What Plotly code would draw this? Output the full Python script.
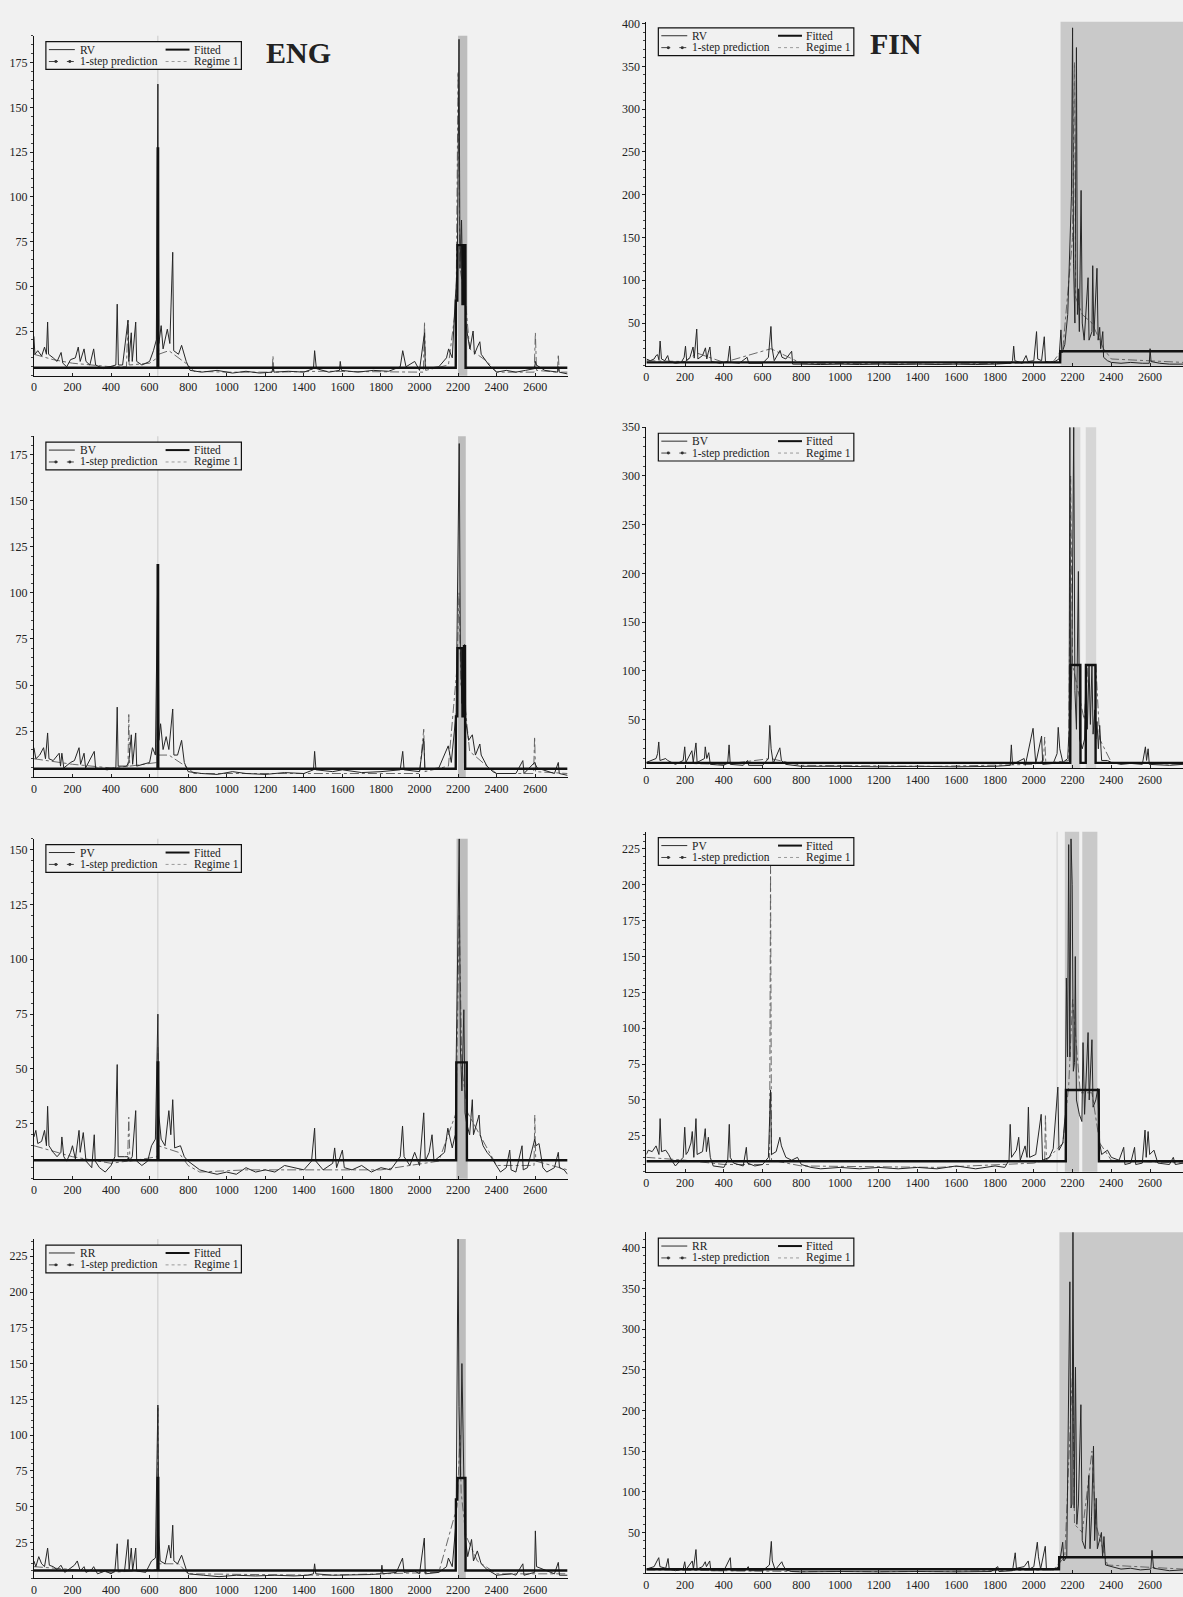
import plotly.graph_objects as go

W, H = 1183, 1597

# ---------------- tick labels ----------------
X_TICKS = [0, 200, 400, 600, 800, 1000, 1200, 1400, 1600, 1800, 2000, 2200, 2400, 2600]
ENG_RV_TICKS = [25, 50, 75, 100, 125, 150, 175]
ENG_BV_TICKS = [25, 50, 75, 100, 125, 150, 175]
ENG_PV_TICKS = [25, 50, 75, 100, 125, 150]
ENG_RR_TICKS = [25, 50, 75, 100, 125, 150, 175, 200, 225]
FIN_RV_TICKS = [50, 100, 150, 200, 250, 300, 350, 400]
FIN_BV_TICKS = [50, 100, 150, 200, 250, 300, 350]
FIN_PV_TICKS = [25, 50, 75, 100, 125, 150, 175, 200, 225]
FIN_RR_TICKS = [50, 100, 150, 200, 250, 300, 350, 400]

# ---------------- ENG data (observation, value) ----------------
ENG_RV = [(0,22),(5,12),(20,14),(40,11),(55,16),(65,12),(71,30),(76,12),(100,10),(120,8),(141,13),(150,7),(170,5),(190,9),(215,10),(230,16),(240,8),(260,15),(270,8),(290,6),(310,15),(320,6),(360,4),(400,5),(425,6),(432,40),(438,6),(460,6),(488,31),(492,8),(505,24),(510,8),(528,30),(533,8),(560,6),(600,8),(620,14),(635,20),(643,163),(648,18),(660,28),(670,15),(692,26),(705,18),(720,69),(725,14),(750,12),(766,17),(790,8),(810,3),(870,2),(950,3),(1030,1.5),(1100,2.5),(1170,1.5),(1235,2),(1240,5),(1245,2),(1320,2.5),(1400,2),(1450,4),(1456,14),(1465,4),(1530,2),(1585,3),(1589,8),(1595,3),(1680,2),(1760,3),(1840,2.5),(1900,5),(1913,14),(1930,5),(1975,8),(2000,3),(2026,24),(2030,4),(2100,5),(2140,10),(2151,15),(2170,10),(2185,42),(2196,60),(2205,188),(2210,60),(2218,87),(2225,40),(2232,73),(2240,30),(2250,22),(2262,15),(2278,25),(2285,12),(2300,16),(2313,19),(2320,12),(2340,9),(2360,6),(2380,4),(2400,2),(2450,3),(2500,2),(2550,3),(2597,4),(2601,8),(2606,6),(2650,3),(2700,2),(2716,2),(2720,5),(2725,2),(2768,1)]
ENG_RV_PRED = [(0,12),(100,9),(200,7),(300,6),(400,5),(480,5),(488,31),(494,6),(600,7),(640,10),(643,127),(647,12),(700,14),(800,6),(830,2.5),(1000,2),(1235,2),(1240,11),(1245,2),(1500,2.5),(1800,2),(2020,2),(2026,30),(2032,3),(2150,6),(2190,40),(2200,170),(2210,60),(2240,40),(2260,15),(2350,8),(2400,2),(2595,2),(2601,24),(2607,3),(2715,2),(2720,12),(2725,2),(2768,2)]
ENG_RV_FIT = [(0,4.5),(641,4.5),(642,127),(644,127),(645,4.5),(2188,4.5),(2189,42),(2196,42),(2197,73),(2222,73),(2223,40),(2232,40),(2233,73),(2238,73),(2239,4.5),(2768,4.5)]
ENG_RV_REG = [(641,645),(2200,2248)]

ENG_BV = [(0,16),(10,10),(30,12),(50,16),(60,10),(71,24),(78,10),(100,9),(131,13),(138,6),(145,13),(155,5),(190,8),(210,9),(234,16),(242,7),(260,13),(268,5),(313,14),(320,5),(380,4),(425,5),(432,38),(437,6),(480,6),(492,8),(505,23),(512,7),(528,24),(533,6),(600,8),(615,16),(630,12),(643,115),(648,20),(657,29),(670,15),(686,22),(700,15),(720,37),(726,12),(745,12),(766,20),(780,8),(800,3),(870,2),(950,1.5),(1030,3),(1100,2),(1200,1.5),(1300,2.5),(1400,2),(1450,4),(1456,14),(1463,4),(1550,3),(1600,4),(1700,2.5),(1800,3),(1900,4),(1913,14),(1920,4),(2000,3),(2022,21),(2028,4),(2100,5),(2149,17),(2165,8),(2190,35),(2200,120),(2206,181),(2212,70),(2220,40),(2234,72),(2240,30),(2255,20),(2274,23),(2290,12),(2313,18),(2320,12),(2350,6),(2380,3),(2400,2),(2500,2),(2536,9),(2542,2),(2597,8),(2610,5),(2700,2),(2720,8),(2725,2),(2768,1)]
ENG_BV_PRED = [(0,10),(200,7),(400,5),(488,6),(492,34),(497,6),(640,8),(643,110),(646,12),(700,12),(800,5),(830,2),(1500,2),(2000,2),(2022,26),(2028,3),(2150,6),(2195,60),(2205,100),(2215,50),(2240,35),(2260,14),(2350,6),(2400,2),(2592,2),(2597,22),(2602,3),(2768,2)]
ENG_BV_FIT = [(0,4.6),(641,4.6),(642,115),(644,115),(645,4.6),(2188,4.6),(2189,33),(2196,33),(2197,70),(2222,70),(2223,33),(2230,33),(2231,71),(2236,71),(2237,4.6),(2768,4.6)]
ENG_BV_REG = [(641,645),(2200,2240)]

ENG_PV = [(0,19),(10,22),(20,16),(40,17),(55,22),(65,15),(71,33),(78,15),(100,12),(120,10),(140,12),(145,19),(155,10),(170,8),(190,12),(200,15),(215,9),(234,22),(240,12),(256,21),(270,8),(290,6),(300,5),(313,20),(318,8),(340,5),(370,3),(400,6),(420,10),(432,52),(437,10),(470,10),(488,10),(495,8),(510,10),(528,31),(533,8),(560,6),(590,8),(610,15),(630,18),(643,75),(648,29),(660,18),(680,15),(700,31),(710,20),(720,36),(730,14),(760,15),(780,10),(800,8),(830,6),(860,4),(900,3),(950,2),(1000,3),(1050,2),(1100,5),(1150,3),(1200,4),(1250,3),(1300,6),(1350,5),(1400,4),(1440,8),(1456,23),(1462,8),(1500,4),(1550,7),(1560,14),(1570,5),(1600,13),(1610,5),(1650,4),(1700,6),(1750,3),(1800,5),(1850,4),(1900,10),(1912,24),(1920,10),(1950,6),(1975,12),(2000,6),(2022,30),(2030,8),(2050,12),(2065,20),(2075,8),(2130,12),(2147,23),(2170,14),(2185,20),(2195,90),(2206,155),(2212,60),(2220,40),(2230,77),(2236,30),(2245,25),(2260,20),(2274,36),(2280,20),(2309,29),(2315,20),(2330,15),(2350,12),(2370,10),(2400,6),(2420,3),(2450,5),(2468,13),(2475,4),(2500,3),(2532,15),(2538,4),(2560,5),(2598,18),(2605,15),(2620,16),(2640,5),(2660,3),(2700,5),(2720,12),(2726,5),(2750,4),(2768,2)]
ENG_PV_PRED = [(0,15),(200,10),(400,7),(486,8),(492,28),(498,8),(640,10),(643,60),(646,15),(750,12),(800,6),(860,3),(1100,4),(1400,4),(1800,4),(2100,8),(2190,30),(2206,120),(2220,50),(2250,30),(2300,22),(2400,6),(2594,6),(2598,29),(2603,8),(2768,4)]
ENG_PV_FIT = [(0,8.4),(641,8.4),(642,53),(645,53),(646,8.4),(2190,8.4),(2191,53),(2245,53),(2246,8.4),(2768,8.4)]
ENG_PV_REG = [(641,645),(2192,2250)]

ENG_RR = [(0,12),(10,8),(25,15),(40,10),(55,8),(71,21),(80,9),(100,8),(120,6),(140,9),(160,4),(190,7),(210,9),(225,12),(240,5),(260,8),(270,4),(300,6),(310,8),(330,3),(370,5),(400,3),(420,5),(432,24),(437,5),(470,5),(488,27),(494,6),(505,21),(512,5),(528,21),(533,5),(580,4),(610,12),(630,14),(643,121),(648,30),(655,12),(680,10),(700,23),(710,14),(720,37),(726,12),(745,10),(766,16),(790,6),(800,3),(880,2),(960,1),(1050,2),(1150,1.5),(1250,2),(1350,1.5),(1420,2),(1450,3),(1456,10),(1462,3),(1550,2),(1650,2),(1750,2.5),(1800,3),(1805,9),(1810,3),(1880,4),(1912,14),(1920,4),(1975,5),(2000,3),(2025,28),(2030,3),(2100,4),(2140,8),(2150,14),(2170,8),(2190,40),(2200,237),(2205,120),(2212,70),(2220,150),(2228,70),(2235,30),(2250,15),(2270,27),(2280,12),(2300,19),(2320,10),(2350,6),(2400,2),(2480,3),(2500,2),(2536,10),(2542,2),(2597,4),(2601,33),(2607,8),(2700,3),(2720,11),(2726,2),(2768,2)]
ENG_RR_PRED = [(0,8),(200,6),(400,4),(640,6),(643,120),(646,10),(750,10),(800,3),(1500,2),(2100,4),(2195,50),(2210,100),(2216,60),(2240,30),(2300,12),(2400,3),(2768,3)]
ENG_RR_FIT = [(0,5.3),(641,5.3),(642,70),(645,70),(646,5.3),(2188,5.3),(2189,55),(2196,55),(2197,70),(2238,70),(2239,5.3),(2768,5.3)]
ENG_RR_REG = [(641,645),(2200,2240)]

# ---------------- FIN data ----------------
FIN_RV = [(0,8),(20,6),(40,8),(50,12),(58,13),(65,7),(71,29),(78,8),(95,6),(110,12),(118,5),(150,3),(180,4),(195,10),(202,23),(208,6),(225,10),(241,22),(247,9),(260,43),(266,8),(290,12),(305,21),(312,8),(320,16),(328,22),(335,5),(380,3),(420,5),(430,23),(436,4),(480,3),(520,10),(528,3),(600,3),(630,10),(643,46),(648,22),(660,6),(690,18),(700,10),(720,8),(750,17),(755,2),(800,2),(900,1.5),(1000,2),(1100,1.5),(1200,2),(1300,1.5),(1400,2),(1500,1.5),(1600,2),(1700,1.5),(1800,2),(1880,3),(1890,6),(1896,23),(1902,6),(1940,3),(1960,12),(1970,5),(2000,6),(2014,40),(2020,8),(2040,6),(2054,34),(2060,5),(2100,4),(2130,8),(2140,42),(2145,15),(2160,25),(2175,60),(2194,198),(2200,395),(2205,120),(2212,50),(2220,372),(2225,60),(2230,90),(2235,40),(2244,205),(2250,50),(2260,30),(2280,103),(2285,30),(2300,40),(2304,117),(2310,35),(2326,114),(2332,30),(2340,45),(2345,20),(2356,40),(2360,10),(2380,6),(2400,4),(2450,3),(2500,4),(2560,3),(2596,3),(2600,20),(2605,5),(2650,3),(2700,2),(2770,2)]
FIN_RV_PRED = [(0,6),(200,5),(260,15),(400,4),(643,20),(800,3),(1500,2),(1900,3),(2100,5),(2150,20),(2200,150),(2210,355),(2216,80),(2250,60),(2300,50),(2360,20),(2400,8),(2770,4)]
FIN_RV_FIT = [(0,4),(2136,4),(2137,17),(2770,17)]
FIN_RV_REG = [(2138,2770)]

FIN_BV = [(0,6),(30,8),(50,10),(58,15),(64,27),(70,8),(100,10),(110,8),(150,4),(190,8),(198,22),(204,6),(235,18),(242,6),(256,26),(262,6),(300,10),(304,22),(312,10),(322,16),(330,4),(400,3),(420,6),(427,24),(433,4),(500,3),(522,8),(528,3),(600,3),(630,10),(637,44),(644,20),(655,5),(689,21),(697,8),(720,4),(750,3),(800,2),(1000,2),(1200,1.5),(1400,2),(1600,1.5),(1800,2),(1878,3),(1884,24),(1890,4),(1950,10),(1956,3),(1996,41),(2002,20),(2010,5),(2040,33),(2046,4),(2100,5),(2120,15),(2126,42),(2134,20),(2150,6),(2175,10),(2182,40),(2186,350),(2190,60),(2196,100),(2206,350),(2212,80),(2220,40),(2230,202),(2236,30),(2250,20),(2262,30),(2270,106),(2276,40),(2285,106),(2292,45),(2300,106),(2306,35),(2315,60),(2320,30),(2326,48),(2333,20),(2340,44),(2350,8),(2380,8),(2400,6),(2450,4),(2500,5),(2560,4),(2576,22),(2582,8),(2590,20),(2596,4),(2700,3),(2770,4)]
FIN_BV_PRED = [(0,6),(400,4),(640,10),(800,3),(1500,2),(2000,4),(2050,8),(2056,32),(2062,5),(2180,8),(2190,300),(2200,106),(2260,50),(2280,106),(2300,106),(2320,106),(2340,30),(2400,6),(2770,4)]
FIN_BV_FIT = [(0,5.5),(2188,5.5),(2189,106),(2240,106),(2241,5.5),(2268,5.5),(2269,106),(2318,106),(2319,5.5),(2770,5.5)]
FIN_BV_REG = [(2190,2240),(2268,2322)]

FIN_PV = [(0,12),(10,15),(30,14),(50,18),(65,12),(71,37),(78,14),(100,15),(115,12),(130,8),(150,4),(190,10),(198,31),(205,12),(215,14),(230,20),(237,28),(245,10),(256,37),(262,12),(290,14),(304,30),(310,14),(320,24),(330,10),(345,4),(400,3),(420,8),(428,33),(433,10),(450,6),(500,4),(516,17),(522,6),(560,4),(600,5),(630,10),(641,57),(646,12),(670,14),(689,24),(697,18),(720,10),(750,8),(780,10),(800,5),(850,3),(900,2),(1000,3),(1100,2),(1200,3),(1300,2),(1400,3),(1500,2),(1600,4),(1700,2),(1800,4),(1850,3),(1872,8),(1878,33),(1885,10),(1910,15),(1922,24),(1930,8),(1955,18),(1965,10),(1972,45),(1978,10),(2010,12),(2038,40),(2045,8),(2080,10),(2100,16),(2124,59),(2130,15),(2150,20),(2162,40),(2168,135),(2174,80),(2180,228),(2186,80),(2192,232),(2198,200),(2204,70),(2210,76),(2214,150),(2220,50),(2235,40),(2248,35),(2254,90),(2262,40),(2280,97),(2286,50),(2300,92),(2306,45),(2320,50),(2330,58),(2340,20),(2350,12),(2380,15),(2400,10),(2440,8),(2464,17),(2470,5),(2500,6),(2520,17),(2526,5),(2560,6),(2574,29),(2580,10),(2590,28),(2598,12),(2620,15),(2640,6),(2700,5),(2720,10),(2730,5),(2770,6)]
FIN_PV_PRED = [(0,10),(200,8),(400,5),(636,5),(641,213),(646,8),(800,4),(1500,3),(2000,6),(2056,8),(2060,40),(2065,8),(2150,20),(2180,60),(2200,120),(2240,55),(2300,55),(2340,20),(2400,8),(2770,6)]
FIN_PV_FIT = [(0,7.3),(2165,7.3),(2166,57),(2335,57),(2336,7.3),(2770,7.3)]
FIN_PV_REG = [(2118,2122),(2160,2234),(2250,2328)]

FIN_RR = [(0,5),(40,8),(55,15),(64,19),(70,8),(100,6),(112,18),(118,5),(150,3),(190,5),(198,14),(204,4),(237,15),(243,5),(256,29),(262,5),(290,8),(304,14),(310,8),(327,15),(333,3),(400,3),(433,19),(438,3),(510,3),(526,8),(532,3),(600,3),(635,10),(645,39),(650,15),(665,4),(699,14),(705,10),(720,4),(750,2),(800,1.5),(1000,2),(1200,1.5),(1400,2),(1600,1.5),(1780,2),(1814,8),(1820,2),(1890,3),(1904,25),(1910,6),(1950,8),(1971,15),(1977,5),(2000,8),(2018,38),(2024,20),(2035,5),(2059,33),(2065,5),(2100,4),(2130,8),(2149,38),(2155,15),(2170,20),(2186,358),(2192,80),(2197,85),(2202,419),(2208,80),(2215,253),(2222,60),(2230,85),(2243,207),(2250,40),(2265,30),(2284,120),(2290,30),(2298,70),(2308,156),(2314,40),(2322,92),(2328,30),(2349,50),(2355,20),(2362,45),(2370,10),(2400,8),(2450,5),(2500,6),(2550,4),(2604,5),(2610,28),(2618,6),(2700,3),(2770,4)]
FIN_RR_PRED = [(0,4),(400,3),(800,2),(1500,2),(2100,4),(2160,20),(2200,250),(2210,60),(2250,50),(2300,150),(2320,60),(2380,10),(2770,5)]
FIN_RR_FIT = [(0,4.7),(2130,4.7),(2131,19.6),(2770,19.6)]
FIN_RR_REG = [(2132,2770)]

SERIES_NAMES = ["RV", "BV", "PV", "RR", "RV", "BV", "PV", "RR"]

# ---------------- layout geometry (pixels) ----------------
LEFT_X = (31, 566)
RIGHT_X = (645, 1183)
panels = [
    dict(xpx=LEFT_X, top=29, bottom=372, xmax=2768, ymax=190, ticks=ENG_RV_TICKS, minor=5, data=ENG_RV, pred=ENG_RV_PRED, fit=ENG_RV_FIT, reg=ENG_RV_REG, reg_color="#bdbdbd"),
    dict(xpx=LEFT_X, top=433, bottom=777, xmax=2768, ymax=185, ticks=ENG_BV_TICKS, minor=5, data=ENG_BV, pred=ENG_BV_PRED, fit=ENG_BV_FIT, reg=ENG_BV_REG, reg_color="#bdbdbd"),
    dict(xpx=LEFT_X, top=839, bottom=1182, xmax=2768, ymax=155, ticks=ENG_PV_TICKS, minor=5, data=ENG_PV, pred=ENG_PV_PRED, fit=ENG_PV_FIT, reg=ENG_PV_REG, reg_color="#bdbdbd"),
    dict(xpx=LEFT_X, top=1243, bottom=1585, xmax=2768, ymax=237, ticks=ENG_RR_TICKS, minor=5, data=ENG_RR, pred=ENG_RR_PRED, fit=ENG_RR_FIT, reg=ENG_RR_REG, reg_color="#bdbdbd"),
    dict(xpx=RIGHT_X, top=15, bottom=362, xmax=2770, ymax=402, ticks=FIN_RV_TICKS, minor=10, data=FIN_RV, pred=FIN_RV_PRED, fit=FIN_RV_FIT, reg=FIN_RV_REG, reg_color="#c9c9c9"),
    dict(xpx=RIGHT_X, top=424, bottom=768, xmax=2770, ymax=350, ticks=FIN_BV_TICKS, minor=10, data=FIN_BV, pred=FIN_BV_PRED, fit=FIN_BV_FIT, reg=FIN_BV_REG, reg_color="#d6d6d6"),
    dict(xpx=RIGHT_X, top=832, bottom=1175, xmax=2770, ymax=237, ticks=FIN_PV_TICKS, minor=5, data=FIN_PV, pred=FIN_PV_PRED, fit=FIN_PV_FIT, reg=FIN_PV_REG, reg_color="#c9c9c9"),
    dict(xpx=RIGHT_X, top=1236, bottom=1580, xmax=2770, ymax=419, ticks=FIN_RR_TICKS, minor=10, data=FIN_RR, pred=FIN_RR_PRED, fit=FIN_RR_FIT, reg=FIN_RR_REG, reg_color="#c9c9c9"),
]

FONT = "Liberation Serif"
BG = "#f1f1f1"


def pxx(x):
    return x / W


def pxy(y):
    return 1 - y / H


def unzip(pairs):
    return [p[0] for p in pairs], [p[1] for p in pairs]


fig = go.Figure()
shapes = []
annotations = []
layout_axes = {}

for i, p in enumerate(panels):
    n = "" if i == 0 else str(i + 1)
    xa, ya = "x" + n, "y" + n
    # regime shading
    for a, b in p["reg"]:
        shapes.append(dict(type="rect", xref=xa, yref=ya + " domain", x0=a, x1=b, y0=0, y1=1,
                           fillcolor=p["reg_color"], line=dict(width=0), layer="below"))
    px_, py_ = unzip(p["pred"])
    fig.add_trace(go.Scatter(x=px_, y=py_, mode="lines", xaxis=xa, yaxis=ya, showlegend=False,
                             line=dict(color="#5a5a5a", width=0.9, dash="dashdot")))
    dx, dy = unzip(p["data"])
    fig.add_trace(go.Scatter(x=dx, y=dy, mode="lines", xaxis=xa, yaxis=ya, showlegend=False,
                             line=dict(color="#262626", width=1.0)))
    fx, fy = unzip(p["fit"])
    fig.add_trace(go.Scatter(x=fx, y=fy, mode="lines", xaxis=xa, yaxis=ya, showlegend=False,
                             line=dict(color="#111111", width=2.4)))

    x0, x1 = p["xpx"]
    layout_axes["xaxis" + n] = dict(
        domain=[pxx(x0), pxx(x1)], anchor=ya, range=[0, p["xmax"]],
        tickvals=X_TICKS, ticks="inside", ticklen=3, tickcolor="#222",
        showline=True, linecolor="#111", linewidth=1, showgrid=False, zeroline=False,
        tickfont=dict(family=FONT, size=12, color="#222"))
    layout_axes["yaxis" + n] = dict(
        domain=[pxy(p["bottom"]), pxy(p["top"])], anchor=xa, range=[0, p["ymax"]],
        tickvals=p["ticks"], ticks="outside", ticklen=3, tickcolor="#222",
        minor=dict(ticks="outside", ticklen=2, dtick=p["minor"], tickcolor="#444"),
        showline=True, linecolor="#111", linewidth=1, showgrid=False, zeroline=False,
        tickfont=dict(family=FONT, size=12, color="#222"))

    # legend box
    bl = x0 + 12
    bt = p["top"] + 6
    bw, bh = 196, 28
    shapes.append(dict(type="rect", xref="paper", yref="paper", x0=pxx(bl), x1=pxx(bl + bw),
                       y0=pxy(bt + bh), y1=pxy(bt), line=dict(color="#111", width=1.2),
                       fillcolor=BG, layer="above"))
    r1, r2 = bt + 8, bt + 20
    # row 1: series, fitted
    shapes.append(dict(type="line", xref="paper", yref="paper", x0=pxx(bl + 3), x1=pxx(bl + 29),
                       y0=pxy(r1), y1=pxy(r1), line=dict(color="#2e2e2e", width=1)))
    shapes.append(dict(type="line", xref="paper", yref="paper", x0=pxx(bl + 120), x1=pxx(bl + 144),
                       y0=pxy(r1), y1=pxy(r1), line=dict(color="#111", width=2)))
    # row 2: prediction, regime
    shapes.append(dict(type="line", xref="paper", yref="paper", x0=pxx(bl + 3), x1=pxx(bl + 28),
                       y0=pxy(r2), y1=pxy(r2), line=dict(color="#444", width=1, dash="dash")))
    for cx in (bl + 10, bl + 24):
        shapes.append(dict(type="circle", xref="paper", yref="paper", x0=pxx(cx - 1.5), x1=pxx(cx + 1.5),
                           y0=pxy(r2 + 1.5), y1=pxy(r2 - 1.5), fillcolor="#333", line=dict(width=0)))
    shapes.append(dict(type="line", xref="paper", yref="paper", x0=pxx(bl + 120), x1=pxx(bl + 144),
                       y0=pxy(r2), y1=pxy(r2), line=dict(color="#9a9a9a", width=1, dash="dot")))
    for tx, ty, txt in [(bl + 32, r1, SERIES_NAMES[i]), (bl + 146, r1, "Fitted"),
                        (bl + 32, r2, "1-step prediction"), (bl + 146, r2, "Regime 1")]:
        annotations.append(dict(x=pxx(tx), y=pxy(ty), xref="paper", yref="paper", text=txt,
                                showarrow=False, xanchor="left", yanchor="middle",
                                font=dict(family=FONT, size=11.5, color="#222")))

# panel titles
annotations.append(dict(x=pxx(296), y=pxy(46), xref="paper", yref="paper", text="<b>ENG</b>",
                        showarrow=False, xanchor="center", yanchor="middle",
                        font=dict(family=FONT, size=30, color="#222")))
annotations.append(dict(x=pxx(895), y=pxy(37), xref="paper", yref="paper", text="<b>FIN</b>",
                        showarrow=False, xanchor="center", yanchor="middle",
                        font=dict(family=FONT, size=30, color="#222")))

fig.update_layout(width=W, height=H, autosize=False,
                  margin=dict(l=0, r=0, t=0, b=0),
                  paper_bgcolor=BG, plot_bgcolor=BG,
                  shapes=shapes, annotations=annotations, showlegend=False,
                  **layout_axes)

fig.write_html("out.html")
